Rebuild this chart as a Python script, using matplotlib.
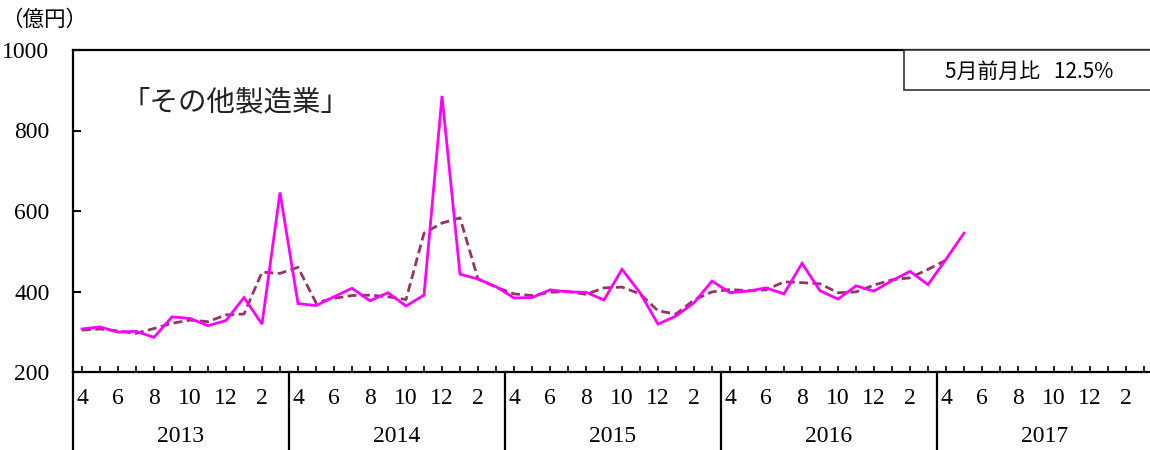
import matplotlib
matplotlib.use("Agg")
import matplotlib.pyplot as plt
from matplotlib.patches import Rectangle
import matplotlib.transforms as mtransforms

# ---- data ----
years = ["2013", "2014", "2015", "2016", "2017"]
month_labels = ["4", "", "6", "", "8", "", "10", "", "12", "", "2", ""]
actual = [307, 312, 299, 301, 286, 337, 333, 315, 328, 385, 319, 646,
          370, 365, 387, 408, 377, 397, 364, 391, 886, 443, 431, 412,
          384, 385, 404, 399, 398, 379, 455, 397, 319, 339, 372, 426,
          397, 401, 409, 394, 470, 402, 381, 414, 401, 427, 450, 417,
          480, 545]
moving_avg = [304, 307, 302, 296, 308, 321, 329, 325, 342, 344, 448, 445,
              460, 372, 383, 390, 391, 387, 380, 545, 570, 583, 431, 411,
              394, 390, 398, 400, 393, 409, 411, 394, 352, 344, 379, 399,
              405, 402, 404, 424, 422, 419, 397, 399, 416, 429, 434, 455,
              478]
y_ticks = [200, 400, 600, 800, 1000]
title_text = "「その他製造業」"
unit_text = "（億円）"
box_text = "5月前月比   12.5%"

W, H = 1150, 450
fig = plt.figure(figsize=(W / 100, H / 100), dpi=100)
left, top, bottom, right = 73, 50, 372, 1153
ax = fig.add_axes([left / W, 1 - bottom / H, (right - left) / W, (bottom - top) / H])

serif = ["Liberation Serif", "DejaVu Serif"]
jp = ["Noto Sans CJK JP", "DejaVu Sans"]

n_months = 12 * len(years)
xs = list(range(len(actual)))
ax.plot(xs, actual, color="#FF00FF", lw=2.0, solid_joinstyle="miter", zorder=3)
ax.plot(list(range(len(moving_avg))), moving_avg, color="#993366", lw=2.0,
        linestyle=(0, (3.2, 1.6)), zorder=2)

ax.set_xlim(-0.5, n_months - 0.5)
ax.set_ylim(200, 1000)
ax.set_yticks(y_ticks)
ax.set_yticklabels([str(v) for v in y_ticks], fontfamily=serif, fontsize=17)
ax.tick_params(axis="y", direction="in", length=6, width=1.5, pad=17)
ax.set_xticks(range(n_months))
ax.set_xticklabels([])
ax.tick_params(axis="x", direction="in", length=4, width=1.2)

for s in ["left", "bottom", "top"]:
    ax.spines[s].set_linewidth(1.6)
ax.spines["right"].set_visible(False)

trans = mtransforms.blended_transform_factory(ax.transData, ax.transAxes)
ax_h_px = bottom - top
for yi, yr in enumerate(years):
    for mi, lab in enumerate(month_labels):
        if lab:
            ax.text(yi * 12 + mi, -26 / ax_h_px, lab, transform=trans, ha="center",
                    va="center", fontfamily=serif, fontsize=17, clip_on=False)
    ax.text(yi * 12 + 5.5, -65 / ax_h_px, yr, transform=trans, ha="center",
            va="center", fontfamily=serif, fontsize=17, clip_on=False)
for yi in range(len(years) + 1):
    xb = yi * 12 - 0.5
    ax.plot([xb, xb], [0, -(H - bottom) / ax_h_px - 0.01], transform=trans,
            color="black", lw=1.6, clip_on=False)

fig.text(1 / W, 1 - 20 / H, unit_text, fontfamily=jp, fontsize=15.5, va="center", ha="left")
fig.text(236 / W, 1 - 102 / H, title_text, fontfamily=jp, fontsize=20.5,
         va="center", ha="center", color="#222222")

fig.patches.append(Rectangle((904 / W, 1 - 90 / H), 300 / W, 40 / H,
                             transform=fig.transFigure, facecolor="white",
                             edgecolor="#333333", lw=1.2, zorder=5))
fig.text(1029 / W, 1 - 72 / H, box_text, fontfamily=jp, fontsize=15,
         va="center", ha="center", zorder=6)

fig.savefig("out.png", dpi=100)
